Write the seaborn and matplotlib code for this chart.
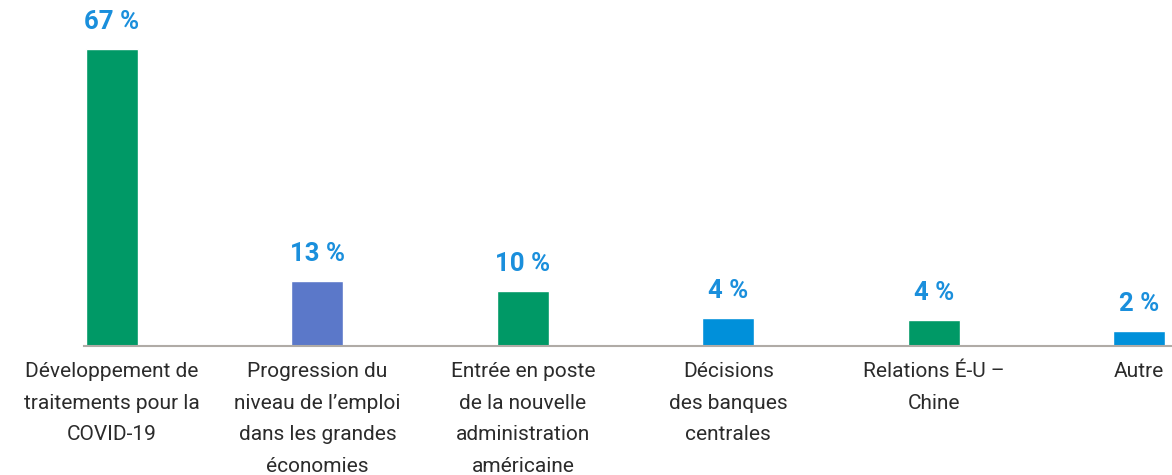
import matplotlib
matplotlib.use("Agg")
import matplotlib.pyplot as plt
import seaborn as sns

categories = [
    "Développement de\ntraitements pour la\nCOVID-19",
    "Progression du\nniveau de l’emploi\ndans les grandes\néconomies",
    "Entrée en poste\nde la nouvelle\nadministration\naméricaine",
    "Décisions\ndes banques\ncentrales",
    "Relations É-U –\nChine",
    "Autre",
]
bar_heights = [67, 14.7, 12.4, 6.3, 5.9, 3.4]
value_labels = ["67 %", "13 %", "10 %", "4 %", "4 %", "2 %"]
bar_colors = ["#009966", "#5b78c9", "#009966", "#0090da", "#009966", "#0090da"]

sns.set_theme(style="white")
plt.rcParams["font.family"] = ["Roboto", "DejaVu Sans"]

fig = plt.figure(figsize=(11.72, 4.75), dpi=100)
ax = fig.add_axes([84 / 1172, 1 - 346 / 475, 1 - 84 / 1172, 346 / 475])

sns.barplot(x=categories, y=bar_heights, hue=categories, palette=bar_colors,
            legend=False, width=0.253, saturation=1, ax=ax)

for cont, lab in zip(ax.containers, value_labels):
    ax.bar_label(cont, labels=[lab], padding=10.5, color="#1a8fdc",
                 fontsize=18.5, fontweight="bold")

ax.set_xlim(-0.136, 5.16)
ax.set_ylim(0, 346 / 4.433)
for s in ["top", "right", "left"]:
    ax.spines[s].set_visible(False)
ax.spines["bottom"].set_color("#b0aba6")
ax.spines["bottom"].set_linewidth(1.5)
ax.set_yticks([])
ax.set_xlabel("")
ax.set_ylabel("")
ax.tick_params(axis="x", length=0, pad=11.5, labelsize=15, labelcolor="#2b2b2b")
for t in ax.get_xticklabels():
    t.set_linespacing(1.84)

fig.savefig("out.png", dpi=100)
